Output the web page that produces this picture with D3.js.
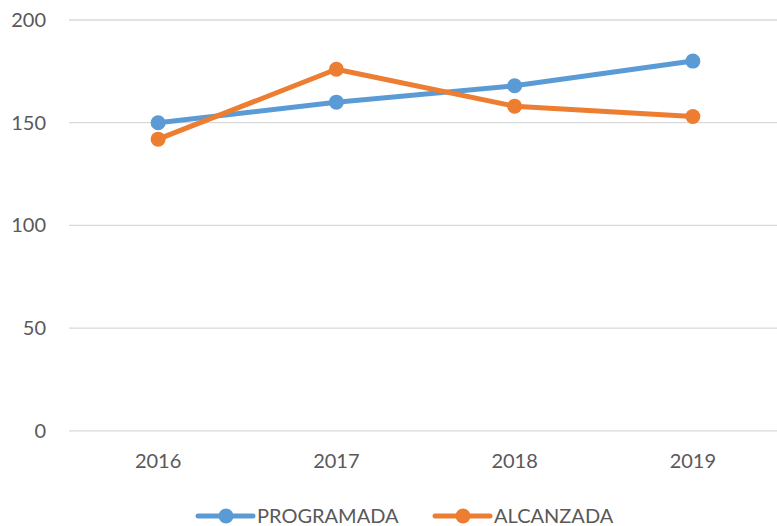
<!DOCTYPE html>
<html>
<head>
<meta charset="utf-8">
<script src="https://cdn.jsdelivr.net/npm/d3@7"></script>
<style>
  html, body { margin: 0; padding: 0; background: #fff; }
  svg { display: block; font-family: Lato, "Open Sans", sans-serif; }
</style>
</head>
<body>
<svg id="chart" width="777" height="526"></svg>
<script>
// datos
const years = ["2016", "2017", "2018", "2019"];
const programada = [150, 160, 168, 180];
const alcanzada = [142, 176, 158, 153];
const yTicks = [0, 50, 100, 150, 200];

const series = [
  { name: "PROGRAMADA", values: programada, color: "#5B9BD5" },
  { name: "ALCANZADA", values: alcanzada, color: "#ED7D31" }
];

const svg = d3.select("#chart");

// escalas
const x = d3.scalePoint().domain(years).range([69, 782]).padding(0.5);
const y = d3.scaleLinear().domain([0, 200]).range([430.8, 20]);

// líneas de cuadrícula
svg.append("g")
  .selectAll("line")
  .data(yTicks)
  .join("line")
  .attr("x1", 69)
  .attr("x2", 777)
  .attr("y1", d => y(d))
  .attr("y2", d => y(d))
  .attr("stroke", "#D9D9D9")
  .attr("stroke-width", 1.3);

// etiquetas eje y
svg.append("g")
  .selectAll("text")
  .data(yTicks)
  .join("text")
  .attr("x", 46)
  .attr("y", d => y(d))
  .attr("dy", "0.35em")
  .attr("text-anchor", "end")
  .attr("fill", "#595959")
  .attr("font-size", 20)
  .text(d => d);

// etiquetas eje x
svg.append("g")
  .selectAll("text")
  .data(years)
  .join("text")
  .attr("x", d => x(d))
  .attr("y", 468)
  .attr("text-anchor", "middle")
  .attr("fill", "#595959")
  .attr("font-size", 20)
  .text(d => d);

// series
const line = d3.line()
  .x((d, i) => x(years[i]))
  .y(d => y(d));

const g = svg.append("g")
  .selectAll("g")
  .data(series)
  .join("g");

g.append("path")
  .attr("d", d => line(d.values))
  .attr("fill", "none")
  .attr("stroke", d => d.color)
  .attr("stroke-width", 5)
  .attr("stroke-linejoin", "round")
  .attr("stroke-linecap", "round");

g.selectAll("circle")
  .data(d => d.values.map((v, i) => ({ v, i, color: d.color })))
  .join("circle")
  .attr("cx", d => x(years[d.i]))
  .attr("cy", d => y(d.v))
  .attr("r", 7.5)
  .attr("fill", d => d.color);

// leyenda
const legendX = [198, 435];
const leg = svg.append("g")
  .selectAll("g")
  .data(series)
  .join("g")
  .attr("transform", (d, i) => `translate(${legendX[i]},516)`);

leg.append("line")
  .attr("x1", 0)
  .attr("x2", 55)
  .attr("stroke", d => d.color)
  .attr("stroke-width", 5)
  .attr("stroke-linecap", "round");

leg.append("circle")
  .attr("cx", 28)
  .attr("r", 7.5)
  .attr("fill", d => d.color);

leg.append("text")
  .attr("x", 59)
  .attr("y", 7)
  .attr("fill", "#595959")
  .attr("font-size", 20)
  .text(d => d.name);
</script>
</body>
</html>
